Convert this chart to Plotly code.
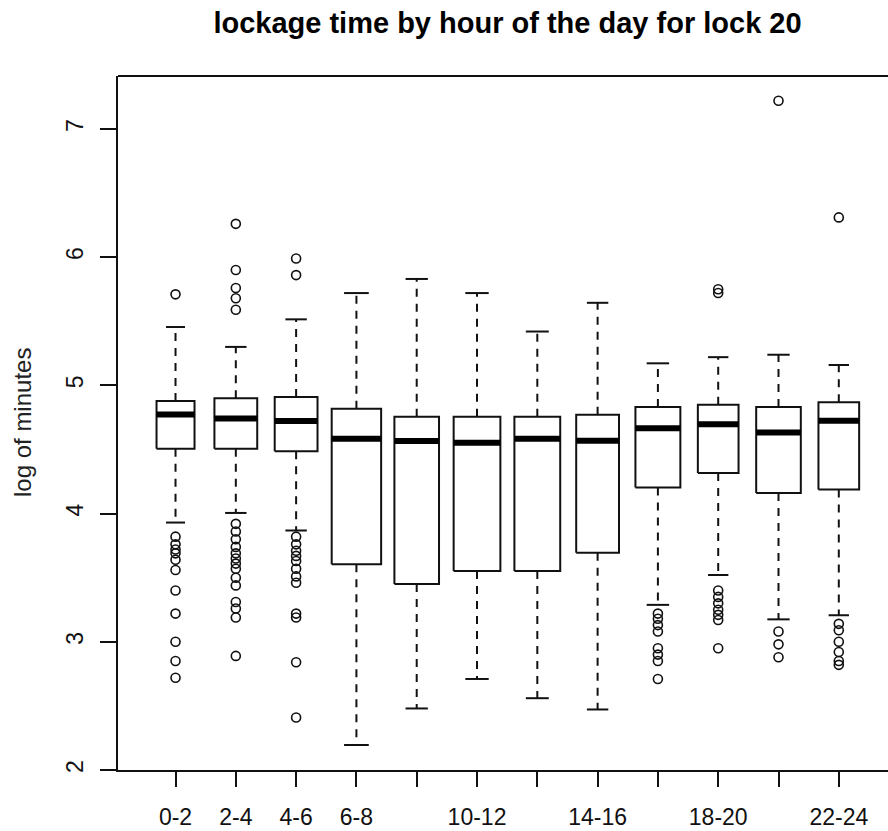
import plotly.graph_objects as go

# ---------------- data ----------------
categories = ["0-2", "2-4", "4-6", "6-8", "8-10", "10-12",
              "12-14", "14-16", "16-18", "18-20", "20-22", "22-24"]
# labels R actually printed (overlapping ones were dropped)
tick_labels = ["0-2", "2-4", "4-6", "6-8", "", "10-12",
               "", "14-16", "", "18-20", "", "22-24"]

lower_whisker = [3.93, 4.005, 3.868, 2.195, 2.48, 2.71, 2.56, 2.472, 3.288, 3.521, 3.175, 3.207]
q1            = [4.505, 4.505, 4.487, 3.605, 3.45, 3.552, 3.552, 3.694, 4.204, 4.317, 4.161, 4.188]
median        = [4.772, 4.742, 4.722, 4.583, 4.567, 4.553, 4.583, 4.568, 4.665, 4.697, 4.633, 4.724]
q3            = [4.879, 4.899, 4.91, 4.818, 4.755, 4.755, 4.755, 4.77, 4.832, 4.848, 4.832, 4.868]
upper_whisker = [5.455, 5.30, 5.515, 5.72, 5.83, 5.72, 5.42, 5.644, 5.172, 5.22, 5.239, 5.159]

outliers = [
    [5.71, 3.82, 3.76, 3.72, 3.69, 3.64, 3.56, 3.40, 3.22, 3.00, 2.85, 2.72],
    [6.26, 5.90, 5.76, 5.68, 5.59, 3.92, 3.86, 3.80, 3.74, 3.69, 3.65, 3.61,
     3.57, 3.50, 3.44, 3.31, 3.26, 3.19, 2.89],
    [5.99, 5.86, 3.82, 3.76, 3.71, 3.67, 3.63, 3.57, 3.51, 3.46, 3.22, 3.19, 2.84, 2.41],
    [],
    [],
    [],
    [],
    [],
    [3.22, 3.18, 3.13, 3.08, 2.95, 2.90, 2.85, 2.71],
    [5.75, 5.72, 3.40, 3.35, 3.30, 3.25, 3.21, 3.17, 2.95],
    [7.22, 3.08, 2.98, 2.88],
    [6.31, 3.14, 3.09, 3.00, 2.92, 2.85, 2.82],
]

# ---------------- style ----------------
BOX_WIDTHS = [0.63, 0.71, 0.71, 0.82, 0.74, 0.775, 0.76, 0.71, 0.745, 0.675, 0.74, 0.675]
INK = "#111111"
FONT = "Liberation Sans, Arial, Helvetica, sans-serif"

pos = list(range(1, len(categories) + 1))

bx, by = [], []        # box outlines
mx, my = [], []        # medians
wx, wy = [], []        # dashed whiskers
cx, cy = [], []        # whisker caps
ox, oy = [], []        # outliers
for i, p in enumerate(pos):
    hw = BOX_WIDTHS[i] / 2
    l, r = p - hw, p + hw
    bx += [l, r, r, l, l, None]
    by += [q1[i], q1[i], q3[i], q3[i], q1[i], None]
    mx += [l, r, None]
    my += [median[i], median[i], None]
    wx += [p, p, None, p, p, None]
    wy += [q3[i], upper_whisker[i], None, q1[i], lower_whisker[i], None]
    ch = hw / 2
    cx += [p - ch, p + ch, None, p - ch, p + ch, None]
    cy += [upper_whisker[i], upper_whisker[i], None, lower_whisker[i], lower_whisker[i], None]
    for v in outliers[i]:
        ox.append(p)
        oy.append(v)

fig = go.Figure()
fig.add_trace(go.Scatter(x=wx, y=wy, mode="lines",
                         line=dict(color=INK, width=2, dash="8px,7px"), hoverinfo="skip"))
fig.add_trace(go.Scatter(x=cx, y=cy, mode="lines",
                         line=dict(color=INK, width=2), hoverinfo="skip"))
fig.add_trace(go.Scatter(x=bx, y=by, mode="lines", fill="toself", fillcolor="white",
                         line=dict(color=INK, width=2), hoverinfo="skip"))
fig.add_trace(go.Scatter(x=mx, y=my, mode="lines",
                         line=dict(color="#000000", width=6), hoverinfo="skip"))
fig.add_trace(go.Scatter(x=ox, y=oy, mode="markers",
                         marker=dict(symbol="circle-open", size=9, color=INK,
                                     line=dict(width=1.6, color=INK)),
                         hoverinfo="skip"))

fig.update_layout(
    width=888, height=831,
    margin=dict(l=118, r=0, t=76, b=61, autoexpand=False),
    paper_bgcolor="white", plot_bgcolor="white",
    showlegend=False,
    font=dict(family=FONT, color=INK, size=23),
    title=dict(text="<b>lockage time by hour of the day for lock 20</b>",
               font=dict(family=FONT, size=29, color="#000000"),
               x=507.5 / 888, xref="container", xanchor="center",
               y=1 - 23 / 831, yref="container", yanchor="middle"),
    annotations=[dict(text="log of minutes", textangle=-90,
                      xref="paper", yref="paper",
                      x=(22 - 118) / 770, y=0.5,
                      xanchor="center", yanchor="middle", showarrow=False,
                      font=dict(family=FONT, size=24, color="#222222"))],
    shapes=[dict(type="line", xref="paper", yref="paper", x0=0, x1=1, y0=1, y1=1,
                 line=dict(color=INK, width=2))],
)

fig.update_xaxes(
    range=[0.046, 12.816], tickmode="array", tickvals=pos, ticktext=tick_labels,
    showgrid=False, zeroline=False, showline=True, linecolor=INK, linewidth=2,
    ticks="outside", ticklen=15, tickwidth=2, tickcolor=INK,
    tickfont=dict(family=FONT, size=23, color="#111111"),
    ticklabelstandoff=10,
)
fig.update_yaxes(
    range=[2.0, 7.413], tickmode="array", tickvals=[2, 3, 4, 5, 6, 7],
    ticktext=["2", "3", "4", "5", "6", "7"], tickangle=-90,
    showgrid=False, zeroline=False, showline=True, linecolor=INK, linewidth=2,
    ticks="outside", ticklen=16, tickwidth=2, tickcolor=INK,
    tickfont=dict(family=FONT, size=23, color="#111111"),
    ticklabelstandoff=8,
)

fig.write_html("out.html")
